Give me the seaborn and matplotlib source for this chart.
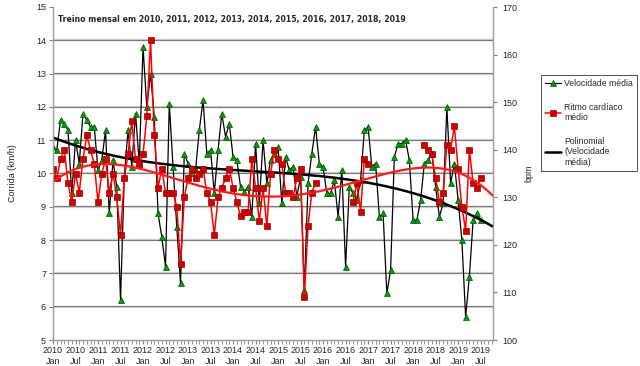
import numpy as np
import pandas as pd
import matplotlib
matplotlib.use("Agg")
import matplotlib.pyplot as plt
from matplotlib.lines import Line2D
import seaborn as sns

# monthly values, Jan 2010 .. Jul 2019
velocidade = [10.8, 10.7, 11.6, 11.5, 11.3, 9.4, 11.0, 10.3, 11.8, 11.6, 11.4, 11.4,
              10.1, 10.4, 11.3, 8.8, 10.4, 9.6, 6.2, 9.9, 11.3, 10.2, 11.8, 10.3,
              13.8, 12.0, 13.0, 11.7, 8.8, 8.1, 7.2, 12.1, 10.2, 8.4, 6.7, 10.6,
              10.3, 10.0, 10.1, 11.3, 12.2, 10.6, 10.7, 9.4, 10.7, 11.8, 11.1, 11.5,
              10.5, 10.4, 9.6, 9.45, 9.6, 8.7, 10.9, 9.1, 11.0, 9.7, 10.4, 10.6,
              10.8, 9.1, 10.5, 10.1, 10.2, 9.3, 9.9, 6.5, 9.7, 10.6, 11.4, 10.3,
              10.2, 9.4, 9.4, 9.8, 8.7, 10.1, 7.2, 9.6, 9.4, 9.2, 9.8, 11.3,
              11.4, 10.2, 10.3, 8.7, 8.8, 6.4, 7.1, 10.5, 10.9, 10.9, 11.0, 10.4,
              8.6, 8.6, 9.2, 10.3, 10.4, 10.6, 9.6, 8.7, 9.1, 12.0, 9.7, 10.3,
              9.2, 8.0, 5.7, 6.9, 8.6, 8.8, 8.6]

nan = np.nan
ritmo = [136, 134, 138, 140, 133, 129, 135, 131, 138, 143, 140, 137,
         129, 135, 138, 131, 135, 130, 122, 134, 139, 146, 138, 137,
         139, 147, 163, 143, 132, 136, 131, 131, 131, 128, 116, 130,
         134, 136, 134, 135, 136, 131, 129, 122, 130, 132, 134, 136,
         132, 129, 126, 127, 127, 138, 132, 125, 132, 124, 135, 140,
         138, 137, 131, 131, 130, 134, 136, 109, 124, 131, 133, nan,
         nan, nan, nan, nan, nan, nan, nan, nan, 129, 133, 127, 138,
         137, nan, nan, nan, nan, nan, nan, nan, nan, nan, nan, nan,
         nan, nan, nan, 141, 140, 139, 134, 129, 131, 141, 140, 145,
         136, 128, 123, 140, 133, 132, 134]

anos = list(range(2010, 2020))
meses_label = ["Jan", "Jul"]
titulo = "Treino mensal em " + ", ".join(str(a) for a in anos)

df = pd.DataFrame({"mes": np.arange(len(velocidade)), "vel": velocidade, "bpm": ritmo})
df["seg"] = df["bpm"].isna().cumsum()
df_red = df.dropna(subset=["bpm"])

xmax = 117.3
xf = np.linspace(0, xmax, 300)
tend_vel = np.polyval(np.polyfit(df["mes"], df["vel"], 3), xf)
tend_bpm = np.polyval(np.polyfit(df_red["mes"], df_red["bpm"], 4), xf)

sns.set_style("white")
plt.rcParams["font.family"] = ["Liberation Sans", "DejaVu Sans"]

fig = plt.figure(figsize=(6.4, 3.66), dpi=100)
ax = fig.add_axes([53 / 640, 1 - 340 / 366, 440 / 640, 333 / 366])
ax2 = ax.twinx()

for v in range(6, 15):
    ax.axhline(v, color="#d0d0d0", lw=1.6, zorder=0)
    ax.axhline(v + 0.01, color="#7a7a7a", lw=0.8, zorder=0)

sns.lineplot(data=df, x="mes", y="vel", color="black", lw=0.9, marker="^", markersize=4,
             markerfacecolor="#00a000", markeredgecolor="#005000", markeredgewidth=0.5, ax=ax)
sns.lineplot(x=xf, y=tend_vel, color="black", lw=1.8, ax=ax)

sns.lineplot(data=df_red, x="mes", y="bpm", units="seg", estimator=None, color="#ff0000",
             lw=1.1, marker="s", markersize=3.8, markerfacecolor="#cc0000",
             markeredgecolor="#a00000", markeredgewidth=0.5, ax=ax2, legend=False)
sns.lineplot(x=xf, y=tend_bpm, color="#ff1a1a", lw=1.6, ax=ax2)

ax.set_xlim(0, xmax)
ax.set_ylim(5, 15)
ax2.set_ylim(100, 170)
ax.set_yticks(range(5, 16))
ax2.set_yticks(range(100, 171, 10))
ax.set_xticks(range(0, 115, 6))
ax.set_xticklabels([f"{a}\n{m}" for a in anos for m in meses_label])
ax.set_xticks(range(0, 118), minor=True)

ax.set_xlabel("")
ax.set_ylabel("Corrida (km/h)", fontsize=6.5, labelpad=14)
ax2.set_ylabel("bpm", fontsize=6.5, labelpad=5)

for a in (ax, ax2):
    for s in a.spines.values():
        s.set_color("#a0a0a0")
        s.set_linewidth(0.9)
    a.spines["top"].set_visible(False)
ax.tick_params(axis="both", which="both", labelsize=6.5, length=3, color="#808080",
               direction="out", bottom=True, left=True, pad=2)
ax.tick_params(axis="x", which="major", labelsize=6.5, pad=1.5)
ax2.tick_params(axis="y", labelsize=6.5, length=3, color="#808080", direction="out",
                right=True, pad=4)
ax.set_facecolor("white")

ax.text(0.012, 0.975, titulo, transform=ax.transAxes, fontsize=5.55, fontweight="bold",
        family="DejaVu Sans", va="top", ha="left")

handles = [
    Line2D([], [], color="black", lw=0.9, marker="^", markersize=4,
           markerfacecolor="#00a000", markeredgecolor="#005000", markeredgewidth=0.5),
    Line2D([], [], color="#ff0000", lw=1.1, marker="s", markersize=3.8,
           markerfacecolor="#cc0000", markeredgecolor="#a00000", markeredgewidth=0.5),
    Line2D([], [], color="black", lw=1.8),
]
labels = ["Velocidade média", "Ritmo cardíaco\nmédio", "Polinomial\n(Velocidade\nmédia)"]
leg = fig.legend(handles, labels, loc="upper left", bbox_to_anchor=(0.845, 0.795),
                 fontsize=6.2, frameon=True, fancybox=False, edgecolor="black",
                 handlelength=1.9, handletextpad=0.3, labelspacing=1.7, borderpad=0.5,
                 borderaxespad=0)
leg.get_frame().set_linewidth(0.6)

fig.savefig("out.png", dpi=100)
